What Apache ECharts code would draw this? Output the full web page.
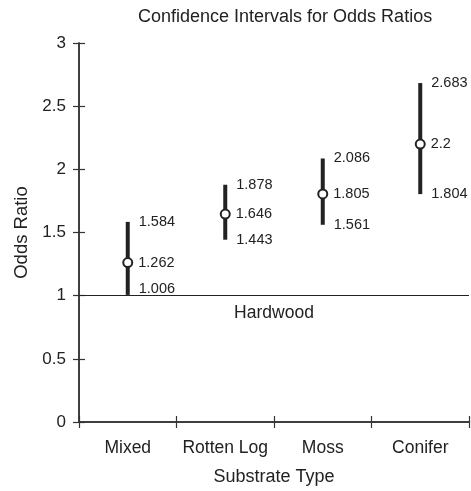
<!DOCTYPE html>
<html>
<head>
<meta charset="utf-8">
<script src="https://cdn.jsdelivr.net/npm/echarts@6/dist/echarts.min.js"></script>
<style>
  html, body { margin: 0; padding: 0; background: #fff; }
  #chart { width: 471px; height: 491px; }
</style>
</head>
<body>
<div id="chart"></div>
<script>
// substrate types and their odds ratio intervals
const categories = ['Mixed', 'Rotten Log', 'Moss', 'Conifer'];
const lower = [1.006, 1.443, 1.561, 1.804];
const estimate = [1.262, 1.646, 1.805, 2.2];
const upper = [1.584, 1.878, 2.086, 2.683];
const baseline = 1;
const baselineName = 'Hardwood';

const ink = '#222';
const font = 'Liberation Sans, Arial, sans-serif';

const chart = echarts.init(document.getElementById('chart'));

const ciData = categories.map((c, i) => [i, lower[i], upper[i]]);

const line = { show: true, lineStyle: { color: '#333', width: 1.5 } };
const tick = (inside) => ({ show: true, inside: inside, length: 6, lineStyle: { color: '#333', width: 1.2 } });

chart.setOption({
  animation: false,
  title: {
    text: 'Confidence Intervals for Odds Ratios',
    left: 133, top: 3,
    textStyle: { fontFamily: font, fontSize: 18, fontWeight: 'normal', color: ink }
  },
  grid: { left: 79, right: 2, top: 43, bottom: 68 },
  xAxis: [
    {
      type: 'category', data: categories,
      name: 'Substrate Type', nameLocation: 'middle', nameGap: 46,
      nameTextStyle: { fontFamily: font, fontSize: 18, color: ink },
      axisLine: line, axisTick: tick(false), splitLine: { show: false },
      axisLabel: { interval: 0, fontFamily: font, fontSize: 17.5, color: ink, margin: 17 }
    },
    {
      type: 'category', data: categories, position: 'bottom',
      axisLine: { show: true, lineStyle: { color: '#333', width: 1.5 } },
      axisTick: tick(true), splitLine: { show: false },
      axisLabel: { show: false }
    }
  ],
  yAxis: [
    {
      type: 'value', min: 0, max: 3, interval: 0.5,
      name: 'Odds Ratio', nameLocation: 'middle', nameGap: 47,
      nameTextStyle: { fontFamily: font, fontSize: 18.5, color: ink },
      axisLine: line, axisTick: tick(false), splitLine: { show: false },
      axisLabel: { fontFamily: font, fontSize: 17, color: ink, margin: 13 }
    },
    {
      type: 'value', min: 0, max: 3, interval: 0.5, position: 'left',
      axisLine: { show: true, lineStyle: { color: '#333', width: 1.5 } },
      axisTick: tick(true), splitLine: { show: false },
      axisLabel: { show: false }
    }
  ],
  series: [
    {
      type: 'custom',
      data: ciData,
      z: 3,
      renderItem: function (params, api) {
        const lo = api.coord([api.value(0), api.value(1)]);
        const hi = api.coord([api.value(0), api.value(2)]);
        const txt = { fontFamily: font, fontSize: 14.5, fill: ink, verticalAlign: 'middle', align: 'left' };
        return {
          type: 'group',
          children: [
            {
              type: 'line',
              shape: { x1: lo[0], y1: lo[1], x2: hi[0], y2: hi[1] },
              style: { stroke: ink, lineWidth: 4 }
            },
            {
              type: 'text', x: hi[0] + 11, y: hi[1],
              style: Object.assign({ text: String(api.value(2)) }, txt)
            },
            {
              type: 'text', x: lo[0] + 11, y: lo[1] - (api.value(1) - 1 < 0.05 ? 6 : 0),
              style: Object.assign({ text: String(api.value(1)) }, txt)
            }
          ]
        };
      }
    },
    {
      type: 'scatter',
      data: estimate,
      z: 5,
      symbol: 'circle',
      symbolSize: 9,
      itemStyle: { color: '#fff', borderColor: ink, borderWidth: 2, opacity: 1 },
      label: {
        show: true, position: 'right', distance: 5,
        fontFamily: font, fontSize: 14.5, color: ink,
        formatter: p => String(p.value)
      },
      markLine: {
        silent: true,
        symbol: 'none',
        lineStyle: { color: ink, width: 1, type: 'solid' },
        label: {
          position: 'insideMiddleBottom', formatter: baselineName,
          fontFamily: font, fontSize: 17.5, color: ink, distance: 9
        },
        data: [{ yAxis: baseline }]
      }
    }
  ]
});
</script>
</body>
</html>
